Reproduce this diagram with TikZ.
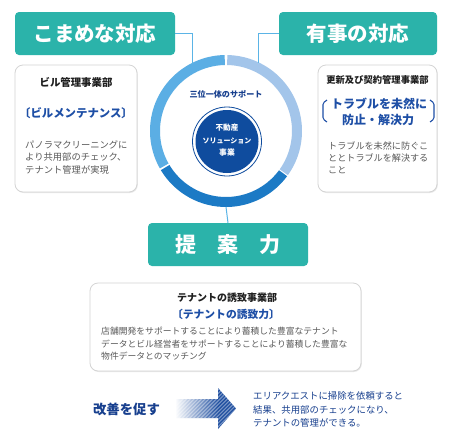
\documentclass[tikz,border=0pt]{standalone}
\usepackage{fontspec}
\setmainfont{Noto Sans CJK JP}
\usetikzlibrary{shadows}
\definecolor{tealc}{HTML}{2BB3AA}
\definecolor{ringA}{HTML}{5BAEE4}
\definecolor{ringB}{HTML}{A3C5EA}
\definecolor{ringC}{HTML}{1C7AC5}
\definecolor{connc}{HTML}{5BB4E6}
\definecolor{navy}{HTML}{173F8E}
\definecolor{circc}{HTML}{0F4C9E}
\definecolor{brblue}{HTML}{1E4FA6}
\definecolor{bodygray}{HTML}{595959}
\definecolor{boxgray}{HTML}{D4D4D4}
\definecolor{arrblue}{HTML}{1F4FA0}
\newcommand\ringseg[3]{\fill[#1] ([shift={(rc)}]#2:76pt) arc[start angle=#2,end angle=#3,radius=76pt] -- ([shift={(rc)}]#3:66pt) arc[start angle=#3,end angle=#2,radius=66pt] -- cycle;}
\newcommand\fs[1]{\fontsize{#1}{#1}\selectfont}
\begin{document}
\begin{tikzpicture}[x=1pt,y=1pt,
  tealbox/.style={fill=tealc, rounded corners=4pt, text=white, font=\fs{20.5}\bfseries, inner sep=0pt, minimum height=43pt},
  whitebox/.style={draw=boxgray, line width=0.8pt, fill=white, rounded corners=8pt, drop shadow={opacity=0.18, shadow xshift=0.8pt, shadow yshift=-1pt}, inner sep=0pt},
  conn/.style={draw=connc, line width=1pt},
  txt/.style={inner sep=0pt},
  bhead/.style={txt, text=black!88, font=\bfseries},
  bblue/.style={txt, text=brblue, font=\bfseries},
  body/.style={txt, anchor=west, text=bodygray},
  navytxt/.style={txt, text=navy},
  brk/.style={draw=brblue, line width=1.1pt, rounded corners=1.5pt}
]
\useasboundingbox (0,0) rectangle (450,-440);
\fill[white] (0,0) rectangle (450,-440);

% title boxes
\node[tealbox, minimum width=160pt] (t1) at (95,-33.5) {こまめな対応};
\node[tealbox, minimum width=158pt] (t2) at (358,-33.5) {有事の対応};
\node[tealbox, minimum width=160pt, font=\fs{21}\bfseries] (t3) at (228,-244.5) {提　案　力};

% ring
\coordinate (rc) at (226,-131);
\ringseg{ringA}{91}{209.5}
\ringseg{ringB}{-35.5}{89}
\ringseg{ringC}{211}{323.5}

% connectors
\coordinate (c1) at (192,-64);
\coordinate (c2) at (258,-63);
\coordinate (c3) at (226,-207);
\draw[conn] (t1.east) -| (c1);
\draw[conn] (t2.west) -| (c2);
\draw[conn] (c3) -- (t3.north);

% centre
\node[navytxt, font=\fs{8.1}\bfseries] (sup) at (226,-94) {三位一体のサポート};
\draw[circc, line width=0.8pt] (227,-141.5) circle (34.5pt);
\node[circle, fill=circc, minimum size=63pt, inner sep=0pt] (core) at (227,-141.5) {};
\node[txt, text=white, font=\fs{7.6}\bfseries] (k1) at (227,-127.5) {不動産};
\node[txt, text=white, font=\fs{7}\bfseries] (k2) at (227,-140.5) {ソリューション};
\node[txt, text=white, font=\fs{7.8}\bfseries] (k3) at (227,-153) {事業};

% left box
\node[whitebox, minimum width=122pt, minimum height=127pt] (b1) at (76,-128.5) {};
\node[bhead, font=\fs{10.4}\bfseries] (b1h) at (76,-82) {ビル管理事業部};
\node[bblue, font=\fs{11.4}\bfseries] (b1b) at (76,-113) {〔ビルメンテナンス〕};
\node[body, font=\fs{9.3}] (b1l1) at (25,-145) {パノラマクリーニングに};
\node[body, font=\fs{9.3}] (b1l2) at (25,-157.5) {より共用部のチェック、};
\node[body, font=\fs{9.3}] (b1l3) at (25,-170) {テナント管理が実現};

% right box
\node[whitebox, minimum width=119pt, minimum height=127pt] (b2) at (377.5,-128.5) {};
\node[bhead, font=\fs{9.3}\bfseries] (b2h) at (377.5,-80) {更新及び契約管理事業部};
\node[bblue, font=\fs{12}\bfseries] (b2b1) at (379,-104) {トラブルを未然に};
\node[bblue, font=\fs{12}\bfseries] (b2b2) at (378,-120) {防止・解決力};
\draw[brk] (327,-100) -- (323,-103) -- (323,-119) -- (327,-122);
\draw[brk] (430,-100) -- (434,-103) -- (434,-119) -- (430,-122);
\node[body, font=\fs{9.1}] (b2l1) at (328,-146) {トラブルを未然に防ぐこ};
\node[body, font=\fs{9.1}] (b2l2) at (328,-158) {ととトラブルを解決する};
\node[body, font=\fs{9.1}] (b2l3) at (328,-170) {こと};

% bottom box
\node[whitebox, minimum width=271pt, minimum height=88pt] (b3) at (225.5,-327) {};
\node[bhead, font=\fs{10}\bfseries] (b3h) at (227,-298) {テナントの誘致事業部};
\node[bblue, font=\fs{10.8}\bfseries] (b3b) at (226,-314) {〔テナントの誘致力〕};
\node[body, font=\fs{8.8}] (b3l1) at (101,-331.5) {店舗開発をサポートすることにより蓄積した豊富なテナント};
\node[body, font=\fs{8.8}] (b3l2) at (101,-344) {データとビル経営者をサポートすることにより蓄積した豊富な};
\node[body, font=\fs{8.8}] (b3l3) at (101,-356.5) {物件データとのマッチング};

% improvement row
\node[navytxt, font=\fs{13.4}\bfseries] (imp) at (126.5,-409) {改善を促す};
\begin{scope}
  \clip (175,-399) -- (218,-399) -- (218,-388) -- (236,-408.5) -- (218,-429) -- (218,-418) -- (175,-418) -- cycle;
  \shade[left color=white, right color=arrblue] (175,-431) rectangle (218.5,-386);
  \fill[arrblue] (218,-431) rectangle (237,-386);
  \foreach \i in {0,...,24}
    \draw[white, opacity=0.4, line width=1.1pt] (150+\i*3.7,-432) -- ++(46,46);
\end{scope}
\node[navytxt, anchor=west, font=\fs{9.4}] (r1) at (253,-396) {エリアクエストに掃除を依頼すると};
\node[navytxt, anchor=west, font=\fs{9.4}] (r2) at (253,-409.5) {結果、共用部のチェックになり、};
\node[navytxt, anchor=west, font=\fs{9.4}] (r3) at (253,-423) {テナントの管理ができる。};
\end{tikzpicture}
\end{document}
